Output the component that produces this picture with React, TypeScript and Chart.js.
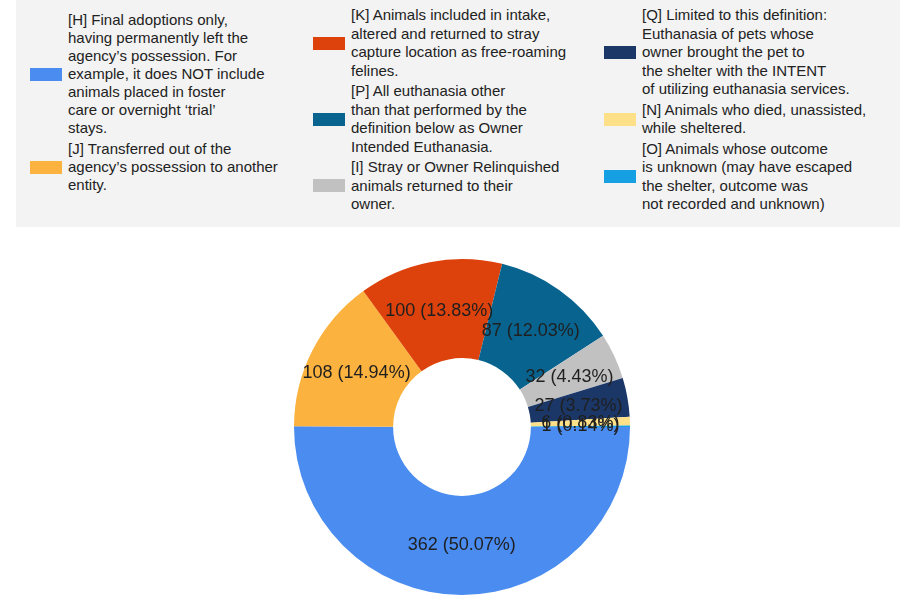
import React, { useEffect, useRef } from "react";
import { Chart, registerables } from "chart.js";

Chart.register(...registerables);

const codes = ["H", "J", "K", "P", "I", "Q", "N", "O"];
const values = [362, 108, 100, 87, 32, 27, 6, 1];
const colors = ["#4a8cf0", "#fbb23e", "#de420c", "#08648f", "#c1c1c1", "#1b3768", "#fde087", "#169fe2"];
const legendLines: string[][] = [
  ["[H] Final adoptions only,", "having permanently left the", "agency\u2019s possession. For", "example, it does NOT include", "animals placed in foster", "care or overnight \u2018trial\u2019", "stays."],
  ["[J] Transferred out of the", "agency\u2019s possession to another", "entity."],
  ["[K] Animals included in intake,", "altered and returned to stray", "capture location as free-roaming", "felines."],
  ["[P] All euthanasia other", "than that performed by the", "definition below as Owner", "Intended Euthanasia."],
  ["[I] Stray or Owner Relinquished", "animals returned to their", "owner."],
  ["[Q] Limited to this definition:", "Euthanasia of pets whose", "owner brought the pet to", "the shelter with the INTENT", "of utilizing euthanasia services."],
  ["[N] Animals who died, unassisted,", "while sheltered."],
  ["[O] Animals whose outcome", "is unknown (may have escaped", "the shelter, outcome was", "not recorded and unknown)"],
];
const legendColumns = [[0, 1], [2, 3, 4], [5, 6, 7]];

const FONT = '"Liberation Sans", Arial, sans-serif';

const sliceLabels = {
  id: "sliceLabels",
  afterDatasetsDraw(chart: any) {
    const ctx = chart.ctx;
    const meta = chart.getDatasetMeta(0);
    const data = chart.data.datasets[0].data as number[];
    const total = data.reduce((a, b) => a + b, 0);
    ctx.save();
    ctx.font = `18px ${FONT}`;
    ctx.fillStyle = "#1f1f1f";
    ctx.textAlign = "center";
    ctx.textBaseline = "middle";
    meta.data.forEach((arc: any, i: number) => {
      const p = arc.tooltipPosition(false);
      const pct = ((data[i] / total) * 100).toFixed(2);
      ctx.fillText(`${data[i]} (${pct}%)`, p.x, p.y);
    });
    ctx.restore();
  },
};

function Legend() {
  const colLeft = [30, 313, 604];
  const colTop = [11, 6, 6];
  const colLH = [18, 18.5, 18.5];
  const colGap = [3, 2, 2];
  return (
    <div
      style={{
        position: "absolute",
        left: 16,
        top: 0,
        width: 884,
        height: 227,
        background: "#f3f3f3",
      }}
    >
      {legendColumns.map((col, ci) => (
        <div
          key={ci}
          style={{
            position: "absolute",
            left: colLeft[ci] - 16,
            top: colTop[ci],
          }}
        >
          {col.map((idx, k) => (
            <div
              key={idx}
              style={{
                display: "flex",
                alignItems: "center",
                marginTop: k === 0 ? 0 : colGap[ci],
              }}
            >
              <div
                style={{
                  width: 32,
                  height: 13,
                  background: colors[idx],
                  flex: "0 0 auto",
                  marginRight: 6,
                }}
              />
              <div
                style={{
                  font: `15px ${FONT}`,
                  lineHeight: `${colLH[ci]}px`,
                  color: "#222",
                  whiteSpace: "nowrap",
                }}
              >
                {legendLines[idx].map((l, j) => (
                  <div key={j}>{l}</div>
                ))}
              </div>
            </div>
          ))}
        </div>
      ))}
    </div>
  );
}

export default function App() {
  const ref = useRef<HTMLCanvasElement>(null);
  useEffect(() => {
    if (!ref.current) return;
    const chart = new Chart(ref.current, {
      type: "doughnut",
      data: {
        labels: codes,
        datasets: [
          {
            data: values,
            backgroundColor: colors,
            borderWidth: 0,
          },
        ],
      },
      options: {
        animation: false,
        responsive: false,
        rotation: 90,
        cutout: "41%",
        layout: { padding: { left: 294, right: 270, top: 10, bottom: 0 } },
        plugins: {
          legend: { display: false },
          tooltip: { enabled: false },
          title: { display: false },
        },
      },
      plugins: [sliceLabels],
    });
    return () => chart.destroy();
  }, []);
  return (
    <div
      style={{
        position: "absolute",
        left: 0,
        top: 0,
        width: 900,
        height: 595,
        background: "#fff",
        overflow: "hidden",
      }}
    >
      <Legend />
      <div style={{ position: "absolute", left: 0, top: 249, width: 900, height: 346 }}>
        <canvas ref={ref} width={900} height={346} style={{ width: 900, height: 346 }} />
      </div>
    </div>
  );
}
